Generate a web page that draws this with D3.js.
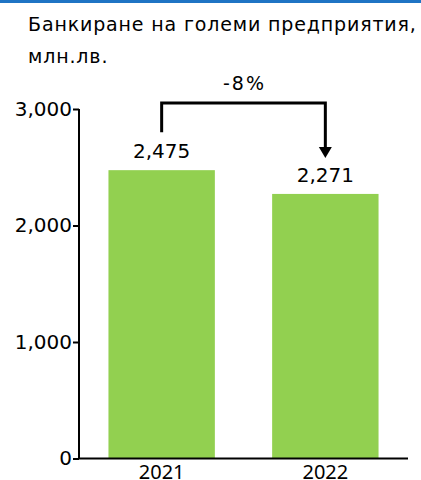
<!DOCTYPE html>
<meta charset="utf-8">
<style>
body { margin: 0; background: #fff; }
text { fill: #000; }
.title { font: 19px "DejaVu Sans", Verdana, sans-serif; letter-spacing: 0.85px; }
.axis text { font: 20px "DejaVu Sans", Verdana, sans-serif; fill: #000; }
.axis path, .axis line { stroke: #000; stroke-width: 2px; }
.cat { font: 20px "Noto Sans", sans-serif; }
.val { font: 20px "DejaVu Sans", Verdana, sans-serif; }
.chg { font: 19px "DejaVu Sans", sans-serif; letter-spacing: 2px; }
</style>
<svg width="421" height="480"></svg>
<script src="https://d3js.org/d3.v7.min.js"></script>
<script>

var years = ["2021", "2022"];
var values = [2475, 2271];
var yTicks = [0, 1000, 2000, 3000];
var title = ["Банкиране на големи предприятия,", "млн.лв."];
var change = "-8%";

var svg = d3.select("svg"),
    x0 = 79, x1 = 408, yTop = 109, yBottom = 458.5;

// blue rule at the top
svg.append("rect")
    .attr("x", 0).attr("y", 0)
    .attr("width", 421).attr("height", 3)
    .attr("fill", "#1f74c4");

svg.selectAll(".title")
  .data(title)
  .enter().append("text")
    .attr("class", "title")
    .attr("x", 28)
    .attr("y", function(d, i) { return 31 + i * 32; })
    .text(function(d) { return d; });

var x = d3.scaleBand()
    .domain(years)
    .range([x0, x1])
    .paddingInner(0.35)
    .paddingOuter(0.18);

var y = d3.scaleLinear()
    .domain([0, 3000])
    .range([yBottom, yTop]);

svg.append("g")
    .attr("class", "axis")
    .attr("transform", "translate(" + x0 + ",0)")
    .call(d3.axisLeft(y).tickValues(yTicks).tickFormat(d3.format(",")).tickSize(6).tickPadding(1))
    .call(function(g) { g.select(".domain").attr("d", "M0," + yTop + "V" + yBottom); });

svg.selectAll(".bar")
  .data(values)
  .enter().append("rect")
    .attr("class", "bar")
    .attr("x", function(d, i) { return x(years[i]); })
    .attr("y", function(d) { return y(d); })
    .attr("width", x.bandwidth())
    .attr("height", function(d) { return yBottom - y(d); })
    .attr("fill", "#92d050");

// x axis line
svg.append("line")
    .attr("x1", x0).attr("x2", x1)
    .attr("y1", yBottom).attr("y2", yBottom)
    .attr("stroke", "#000").attr("stroke-width", 2);

svg.selectAll(".cat")
  .data(years)
  .enter().append("text")
    .attr("class", "cat")
    .attr("x", function(d) { return x(d) + x.bandwidth() / 2; })
    .attr("y", yBottom + 20)
    .attr("text-anchor", "middle")
    .text(function(d) { return d; });

svg.selectAll(".val")
  .data(values)
  .enter().append("text")
    .attr("class", "val")
    .attr("x", function(d, i) { return x(years[i]) + x.bandwidth() / 2; })
    .attr("y", function(d) { return y(d) - 12; })
    .attr("text-anchor", "middle")
    .text(d3.format(","));

// change bracket with arrow
var cx0 = x(years[0]) + x.bandwidth() / 2,
    cx1 = x(years[1]) + x.bandwidth() / 2,
    by = 103,
    tip = y(values[1]) - 36;

svg.append("path")
    .attr("d", "M" + cx0 + "," + (y(values[0]) - 38) + "V" + by + "H" + cx1 + "V" + (tip - 10))
    .attr("fill", "none")
    .attr("stroke", "#000")
    .attr("stroke-width", 3);

svg.append("path")
    .attr("d", "M" + (cx1 - 6.5) + "," + (tip - 11) + "L" + (cx1 + 6.5) + "," + (tip - 11) + "L" + cx1 + "," + tip + "Z")
    .attr("fill", "#000");

svg.append("text")
    .attr("class", "chg")
    .attr("x", (cx0 + cx1) / 2 + 1)
    .attr("y", 90)
    .attr("text-anchor", "middle")
    .text(change);

</script>
